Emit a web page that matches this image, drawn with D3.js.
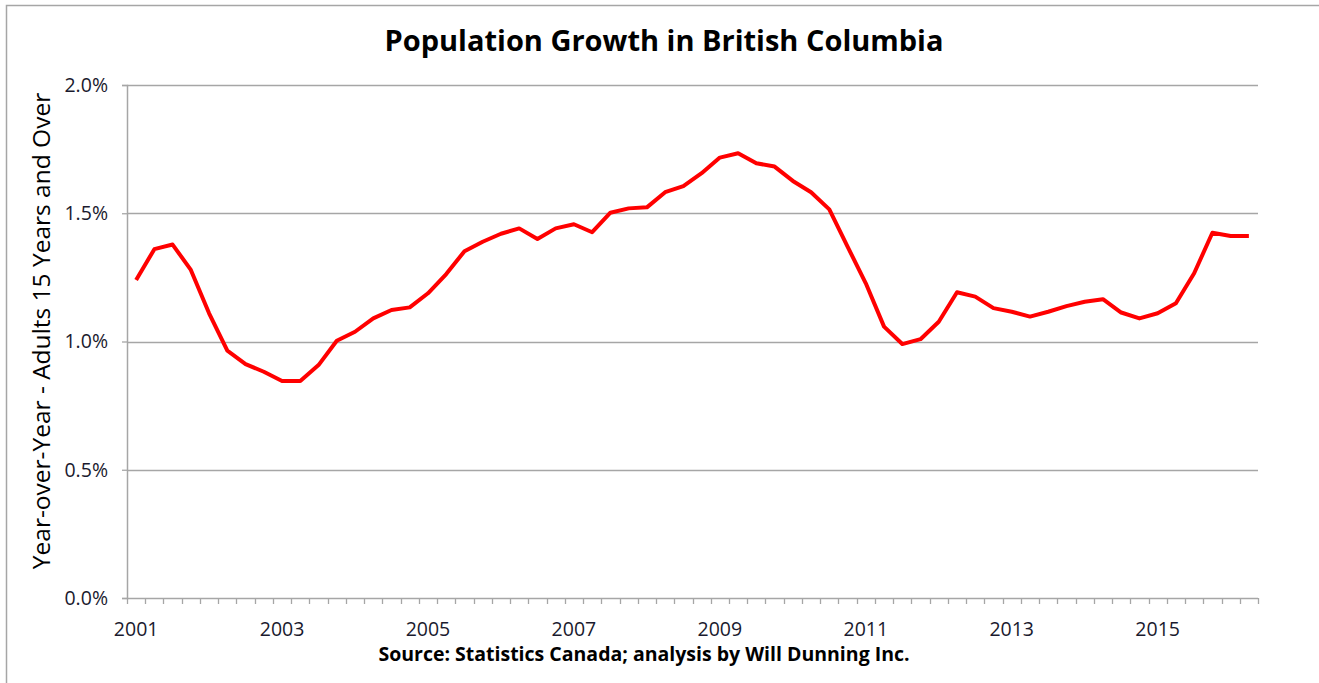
<!DOCTYPE html>
<html>
  <head>
    <meta charset="UTF-8" />
    <title>Population Growth in British Columbia</title>
    <script src="https://d3js.org/d3.v7.min.js"></script>
    <style>
      body { margin: 0; background: #fff; }
      text { font-family: "Open Sans", Lato, sans-serif; }
    </style>
  </head>
  <body>
    <svg width="1319" height="683"></svg>
    <script>
      // quarters 2001 Q1 .. 2016 Q2
      var years = d3.range(2001, 2017);
      var quarters = [];
      years.forEach(function (y) {
        [1, 2, 3, 4].forEach(function (q) {
          if (y === 2016 && q > 2) return;
          quarters.push(y + "Q" + q);
        });
      });

      // year-over-year growth, %
      var growth = [
        1.24, 1.36, 1.378, 1.279, 1.11, 0.964, 0.912, 0.882,
        0.846, 0.846, 0.908, 1.003, 1.038, 1.09, 1.123, 1.133,
        1.188, 1.263, 1.352, 1.389, 1.42, 1.441, 1.4, 1.441,
        1.457, 1.426, 1.502, 1.519, 1.523, 1.582, 1.606, 1.656,
        1.717, 1.734, 1.695, 1.682, 1.626, 1.582, 1.515, 1.37,
        1.227, 1.058, 0.99, 1.009, 1.077, 1.192, 1.175, 1.13,
        1.116, 1.097, 1.116, 1.138, 1.155, 1.165, 1.113, 1.09,
        1.11, 1.149, 1.266, 1.424, 1.411, 1.411
      ];

      var yTicks = [0, 0.5, 1.0, 1.5, 2.0];
      var xLabels = ["2001", "2003", "2005", "2007", "2009", "2011", "2013", "2015"];

      var svg = d3.select("svg");
      var margin = { top: 85, left: 127, right: 61, bottom: 85 };
      var width = 1319 - margin.left - margin.right;
      var height = 683 - margin.top - margin.bottom;

      // outer frame
      svg.append("rect")
        .attr("x", 6.5).attr("y", 5.5)
        .attr("width", 1400).attr("height", 800)
        .attr("fill", "none")
        .attr("stroke", "#a6a6a6")
        .attr("stroke-width", 1.5);

      var g = svg.append("g")
        .attr("transform", "translate(" + margin.left + "," + margin.top + ")");

      var x = d3.scaleBand().domain(quarters).range([0, width]);
      var y = d3.scaleLinear().domain([0, 2]).range([height, 0]);

      // gridlines
      g.append("g")
        .selectAll("line")
        .data(yTicks.slice(1))
        .enter()
        .append("line")
        .attr("x1", 0).attr("x2", width)
        .attr("y1", function (d) { return Math.round(y(d)) + 0.5; })
        .attr("y2", function (d) { return Math.round(y(d)) + 0.5; })
        .attr("stroke", "#a6a6a6")
        .attr("stroke-width", 1.3);

      // y axis
      var yAxis = g.append("g")
        .call(d3.axisLeft(y).tickValues(yTicks).tickSize(5).tickPadding(14)
          .tickFormat(function (d) { return d.toFixed(1) + "%"; }));
      yAxis.select(".domain").attr("stroke", "#a6a6a6").attr("stroke-width", 1.5);
      yAxis.selectAll(".tick line").attr("stroke", "#a6a6a6").attr("stroke-width", 1.3);
      yAxis.selectAll(".tick text")
        .attr("font-size", 19.5)
        .attr("fill", "#1a1a2e")
        .style("font-family", "'Open Sans', sans-serif");

      // x axis line
      g.append("line")
        .attr("x1", 0).attr("x2", width)
        .attr("y1", height + 0.5).attr("y2", height + 0.5)
        .attr("stroke", "#a6a6a6").attr("stroke-width", 1.5);

      // x ticks at category boundaries
      var bounds = quarters.map(function (q) { return x(q); }).concat([width]);
      g.append("g")
        .selectAll("line")
        .data(bounds)
        .enter()
        .append("line")
        .attr("x1", function (d) { return Math.round(d) + 0.5; })
        .attr("x2", function (d) { return Math.round(d) + 0.5; })
        .attr("y1", height).attr("y2", height + 6)
        .attr("stroke", "#a6a6a6").attr("stroke-width", 1.3);

      // x labels
      g.append("g")
        .selectAll("text")
        .data(xLabels)
        .enter()
        .append("text")
        .attr("x", function (d) { return x(d + "Q1") + x.bandwidth() / 2; })
        .attr("y", height + 38)
        .attr("text-anchor", "middle")
        .attr("font-size", 19.5)
        .attr("fill", "#1a1a2e")
        .text(function (d) { return d; });

      // line
      var line = d3.line()
        .x(function (d, i) { return x(quarters[i]) + x.bandwidth() / 2; })
        .y(function (d) { return y(d); });

      g.append("path")
        .datum(growth)
        .attr("d", line)
        .attr("fill", "none")
        .attr("stroke", "#ff0000")
        .attr("stroke-width", 4)
        .attr("stroke-linejoin", "round");

      // title
      svg.append("text")
        .attr("x", 664)
        .attr("y", 51)
        .attr("text-anchor", "middle")
        .attr("font-size", 29)
        .attr("font-weight", "bold")
        .attr("fill", "#000")
        .text("Population Growth in British Columbia");

      // y title
      svg.append("text")
        .attr("transform", "translate(50,331) rotate(-90)")
        .attr("text-anchor", "middle")
        .attr("font-size", 24.5)
        .attr("fill", "#000")
        .text("Year-over-Year - Adults 15 Years and Over");

      // source
      svg.append("text")
        .attr("x", 644)
        .attr("y", 661)
        .attr("text-anchor", "middle")
        .attr("font-size", 19.5)
        .attr("font-weight", "bold")
        .attr("fill", "#000")
        .text("Source: Statistics Canada; analysis by Will Dunning Inc.");
    </script>
  </body>
</html>
